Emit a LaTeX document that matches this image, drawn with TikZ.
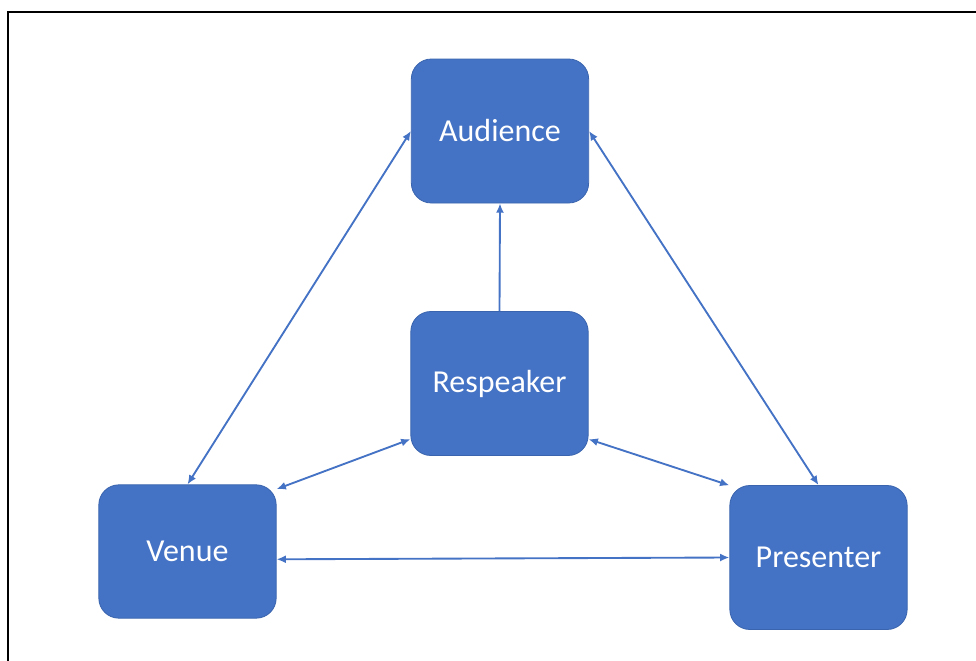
\documentclass[tikz,border=0pt]{standalone}
\usepackage{fontspec}
\setmainfont{Carlito}
\usetikzlibrary{arrows.meta}
\definecolor{officeblue}{HTML}{4472C4}
\definecolor{officeedge}{HTML}{3A64AE}

\begin{document}
\begin{tikzpicture}[x=0.75pt,y=-0.75pt,
    party/.style={draw=officeedge,line width=0.6pt,fill=officeblue,text=white,rounded corners=15pt,
      minimum width=133pt,minimum height=108pt,inner sep=0pt,font=\fontsize{24}{28}\selectfont},
    link/.style={draw=officeblue,line width=1.4pt,{Latex[length=7pt,width=6pt]}-{Latex[length=7pt,width=6pt]}},
    oneway/.style={draw=officeblue,line width=1.4pt,-{Latex[length=7pt,width=6pt]}}]
  \useasboundingbox (0,0) rectangle (976,661);
  \draw [line width=1.5pt] (976,12) -- (8,12) -- (8,661);

  \node [party] (aud) at (500,131) {Audience};
  \node [party] (res) at (499.5,383.5) {Respeaker};
  \node [party,minimum height=100pt] (ven) at (187.5,551.5) {Venue};
  \node [party] (pre) at (818.5,557.5) {Presenter};

  \draw [oneway] (res.north) -- (aud.south);
  \draw [link] (aud.west) -- (ven.north);
  \draw [link] (aud.east) -- (pre.north);
  \draw [link] (res.212) -- (ven.35);
  \draw [link] (res.-32) -- (pre.141);
  \draw [link] (ven.-5) -- (pre.west);

\end{tikzpicture}
\end{document}
